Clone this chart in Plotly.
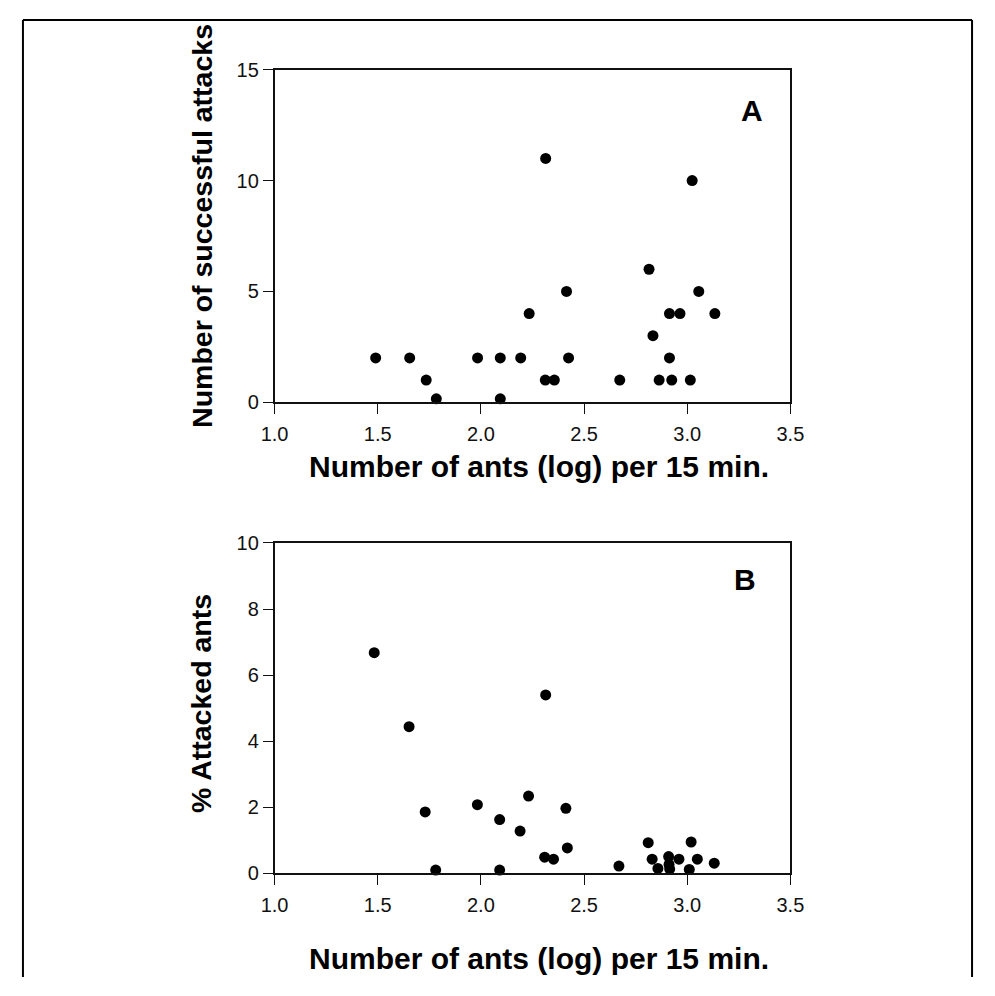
import plotly.graph_objects as go

# Data
log_ants = [1.49, 1.655, 1.735, 1.784, 1.984, 2.094, 2.094, 2.193, 2.234, 2.314, 2.312, 2.356,
            2.415, 2.425, 2.673, 2.815, 2.834, 2.864, 2.914, 2.914, 2.925, 2.965, 3.015, 3.024,
            3.056, 3.134]
successful_attacks = [2, 2, 1, 0.15, 2, 2, 0.15, 2, 4, 11, 1, 1,
                      5, 2, 1, 6, 3, 1, 4, 2, 1, 4, 1, 10,
                      5, 4]

log_ants_b = [1.483, 1.652, 1.730, 1.781, 1.983, 2.091, 2.091, 2.190, 2.231, 2.314, 2.309, 2.352,
              2.412, 2.419, 2.669, 2.811, 2.830, 2.858, 2.910, 2.912, 2.915, 2.960, 3.010, 3.019,
              3.049, 3.131]
pct_attacked = [6.68, 4.44, 1.86, 0.10, 2.08, 1.63, 0.10, 1.28, 2.34, 5.40, 0.49, 0.43,
                1.97, 0.77, 0.22, 0.93, 0.43, 0.15, 0.51, 0.27, 0.13, 0.43, 0.12, 0.95,
                0.43, 0.31]

x_ticks = [1.0, 1.5, 2.0, 2.5, 3.0, 3.5]
x_ticklabels = ["1.0", "1.5", "2.0", "2.5", "3.0", "3.5"]
ya_ticks = [0, 5, 10, 15]
yb_ticks = [0, 2, 4, 6, 8, 10]

# page has an 8px body margin: figure sized so the page is exactly 995x996
OFF = 8
W, H = 995 - 2 * OFF, 996 - 2 * OFF
def px(x): return (x - OFF) / W
def py(y): return 1 - (y - OFF) / H

FONT = "Liberation Sans, Arial, sans-serif"

fig = go.Figure()
fig.add_trace(go.Scatter(x=log_ants, y=successful_attacks, mode="markers",
                         marker=dict(size=11, color="black"), cliponaxis=False,
                         xaxis="x", yaxis="y", showlegend=False))
fig.add_trace(go.Scatter(x=log_ants_b, y=pct_attacked, mode="markers",
                         marker=dict(size=11, color="black"), cliponaxis=False,
                         xaxis="x2", yaxis="y2", showlegend=False))

axis_common = dict(showline=True, linecolor="#111", linewidth=1.5, mirror=True,
                   ticks="outside", ticklen=10, tickwidth=1.3, tickcolor="#111",
                   showgrid=False, zeroline=False,
                   tickfont=dict(family=FONT, size=20, color="#111"))

xdom = [px(268), px(799)]
fig.update_layout(
    width=W, height=H,
    margin=dict(l=0, r=0, t=0, b=0),
    paper_bgcolor="white", plot_bgcolor="white",
    xaxis=dict(domain=xdom, range=[1.0, 3.5], tickvals=x_ticks, ticktext=x_ticklabels,
               anchor="y", ticklabelstandoff=3, **axis_common),
    yaxis=dict(domain=[py(400), py(60)], range=[0, 15], tickvals=ya_ticks,
               anchor="x", **axis_common),
    xaxis2=dict(domain=xdom, range=[1.0, 3.5], tickvals=x_ticks, ticktext=x_ticklabels,
                anchor="y2", ticklabelstandoff=3, **axis_common),
    yaxis2=dict(domain=[py(882), py(544)], range=[0, 10], tickvals=yb_ticks,
                anchor="x2", **axis_common),
)

ytitle_font = dict(family=FONT, size=28.5, color="black")
xtitle_font = dict(family=FONT, size=30, color="black")
annotations = [
    dict(text="<b>Number of successful attacks</b>", x=px(194), y=py(220), textangle=-90,
         font=ytitle_font),
    dict(text="<b>Number of ants (log) per 15 min.</b>", x=px(540), y=py(466),
         font=xtitle_font),
    dict(text="<b>% Attacked ants</b>", x=px(193), y=py(708), textangle=-90,
         font=ytitle_font),
    dict(text="<b>Number of ants (log) per 15 min.</b>", x=px(540), y=py(969),
         font=xtitle_font),
    dict(text="<b>A</b>", x=px(759), y=py(102), font=dict(family=FONT, size=30, color="black")),
    dict(text="<b>B</b>", x=px(752), y=py(581), font=dict(family=FONT, size=30, color="black")),
]
for a in annotations:
    a.update(xref="paper", yref="paper", showarrow=False, xanchor="center", yanchor="middle")
fig.update_layout(annotations=annotations)

# outer frame (left, top, right edges)
L, T, R = 0.001, 0.999, 0.999
frame = [(L, 0, L, T), (L, T, R, T), (R, T, R, 0)]
fig.update_layout(shapes=[dict(type="line", xref="paper", yref="paper", x0=a, y0=b, x1=c, y1=d,
                               line=dict(color="black", width=2)) for a, b, c, d in frame])

fig.write_html("out.html")
